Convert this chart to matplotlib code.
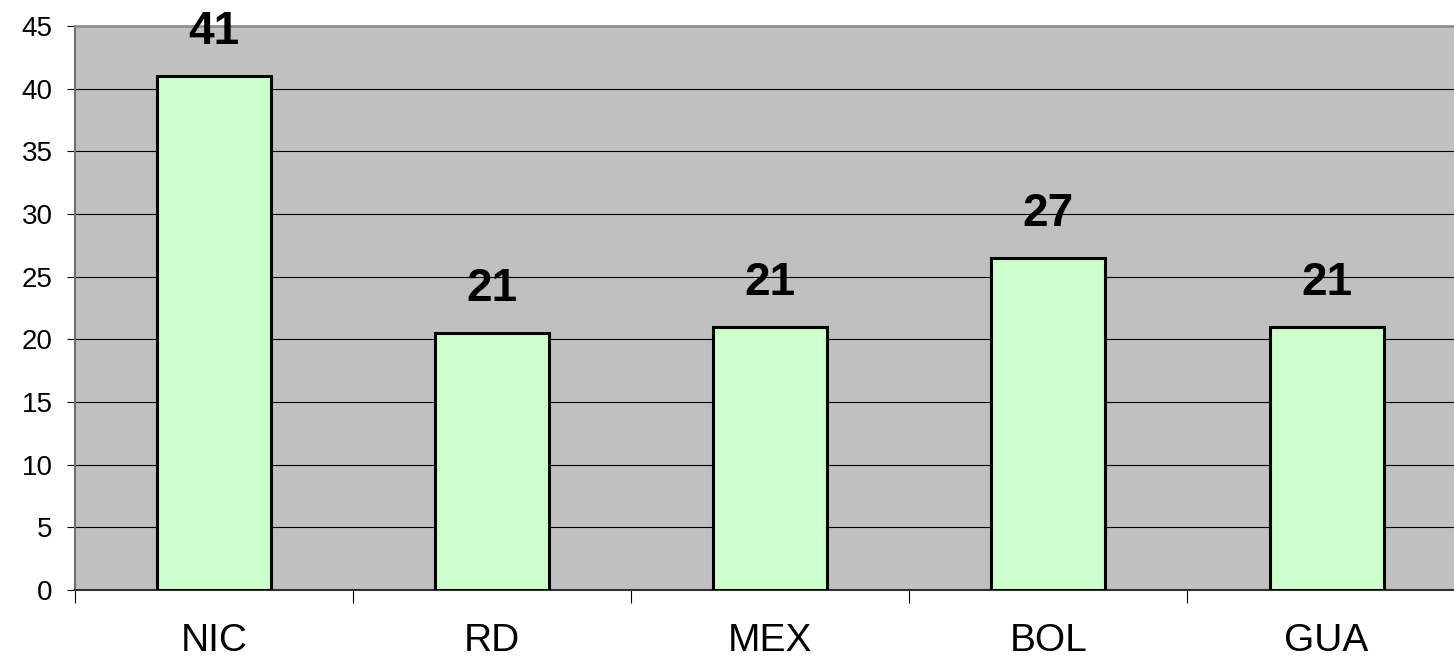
import matplotlib
matplotlib.use("Agg")
import matplotlib.pyplot as plt
import numpy as np

countries = ["NIC", "RD", "MEX", "BOL", "GUA"]
values = [41, 20.5, 21, 26.5, 21]
y_ticks = [0, 5, 10, 15, 20, 25, 30, 35, 40, 45]

plt.rcParams["font.family"] = ["Liberation Sans", "DejaVu Sans"]


def main():
    fig = plt.figure(figsize=(14.54, 6.6), dpi=100)
    # plot area runs slightly past the right edge of the canvas
    ax = fig.add_axes([75 / 1454, 70 / 660, 1390.6 / 1454, 564 / 660])
    ax.set_facecolor("#C0C0C0")

    x = np.arange(len(countries))
    ax.bar(x, values, width=0.41, color="#CCFFCC", edgecolor="black",
           linewidth=2.2, zorder=3)

    # value labels, rounded half up
    for xi, v in zip(x, values):
        ax.annotate(f"{int(v + 0.5)}", (xi, v), xytext=(0, 23),
                    textcoords="offset points", ha="center", va="baseline",
                    fontsize=33, fontweight="bold", color="black", zorder=4)

    ax.set_xlim(-0.5, len(countries) - 0.5)
    ax.set_ylim(0, 45)
    ax.set_yticks(y_ticks)
    ax.yaxis.grid(True, color="black", linewidth=0.8, zorder=1)
    ax.set_axisbelow(True)
    ax.tick_params(axis="y", length=6, width=0.8, color="black", pad=10,
                   labelsize=20)

    # category boundaries as major ticks, names on minor ticks
    ax.set_xticks(np.arange(len(countries) + 1) - 0.5)
    ax.set_xticklabels([])
    ax.set_xticks(x, minor=True)
    ax.set_xticklabels(countries, minor=True)
    ax.tick_params(axis="x", which="major", length=9, width=0.8, color="black")
    ax.tick_params(axis="x", which="minor", length=0, pad=23.5, labelsize=28)

    ax.spines["left"].set_color("#707070")
    ax.spines["left"].set_linewidth(1.5)
    ax.spines["top"].set_color("#909090")
    ax.spines["top"].set_linewidth(2)
    ax.spines["right"].set_visible(False)
    ax.spines["bottom"].set_color("#303030")
    ax.spines["bottom"].set_linewidth(1.5)

    fig.savefig("out.png", dpi=100, facecolor="white")


if __name__ == "__main__":
    main()
